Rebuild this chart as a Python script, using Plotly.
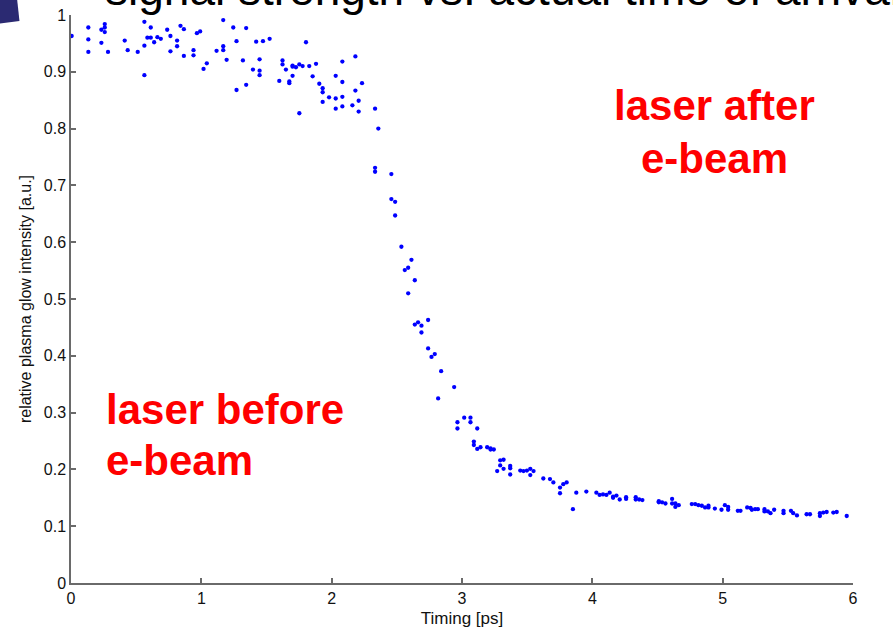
import plotly.graph_objects as go

# Measured plasma glow vs. laser/e-beam relative timing
timing_ps = [
    0.005, 0.133, 0.133, 0.133, 0.233, 0.259, 0.259, 0.259, 0.233, 0.284,
    0.412, 0.435, 0.512, 0.535, 0.563, 0.563, 0.563, 0.586, 0.612, 0.612,
    0.638, 0.663, 0.689, 0.738, 0.763, 0.763, 0.814, 0.814, 0.840, 0.866,
    0.866, 0.940, 0.940, 0.966, 0.991, 1.017, 1.042, 1.117, 1.168, 1.168,
    1.168, 1.194, 1.245, 1.270, 1.270, 1.319, 1.344, 1.344, 1.396, 1.421,
    1.447, 1.447, 1.447, 1.473, 1.524, 1.598, 1.623, 1.623, 1.649, 1.675,
    1.675, 1.700, 1.700, 1.700, 1.726, 1.752, 1.752, 1.777, 1.803, 1.828,
    1.854, 1.880, 1.905, 1.931, 1.931, 1.931, 1.980, 2.031, 2.031, 2.031,
    2.082, 2.082, 2.082, 2.082, 2.159, 2.182, 2.182, 2.207, 2.207, 2.233,
    2.333, 2.358,
    2.333, 2.333, 2.458, 2.458, 2.487, 2.487, 2.535, 2.612, 2.587, 2.561,
    2.638, 2.587, 2.638, 2.663, 2.689, 2.740, 2.689, 2.740, 2.766, 2.791,
    2.840, 2.940, 2.817, 2.965, 2.965, 3.017, 3.065, 3.065, 3.117, 3.091,
    3.091, 3.117, 3.142, 3.193, 3.219, 3.219, 3.244, 3.293, 3.319, 3.293,
    3.319, 3.270, 3.370, 3.370, 3.370, 3.447, 3.472, 3.498, 3.524, 3.524,
    3.549, 3.624, 3.675, 3.701, 3.752, 3.752, 3.777, 3.803, 3.877, 3.851,
    3.954, 4.031, 4.056, 4.082, 4.108, 4.133, 4.159, 4.159, 4.185, 4.210,
    4.259, 4.259, 4.333, 4.333, 4.359, 4.384, 4.510, 4.510, 4.535, 4.561,
    4.612, 4.612, 4.637, 4.637, 4.663, 4.763, 4.789, 4.814, 4.840, 4.865,
    4.891, 4.891, 4.940, 4.991, 5.017, 5.042, 5.042, 5.116, 5.137, 5.188,
    5.214, 5.224, 5.249, 5.270, 5.321, 5.321, 5.347, 5.367, 5.395, 5.467,
    5.467, 5.524, 5.541, 5.570, 5.644, 5.670, 5.746, 5.746, 5.772, 5.798,
    5.849, 5.875, 5.952,
]

glow_intensity = [
    0.963, 0.978, 0.957, 0.935, 0.974, 0.984, 0.978, 0.970, 0.951, 0.935,
    0.955, 0.938, 0.935, 1.001, 0.988, 0.946, 0.894, 0.960, 0.978, 0.960,
    0.952, 0.961, 0.958, 0.974, 0.963, 0.936, 0.955, 0.945, 0.981, 0.975,
    0.928, 0.938, 0.929, 0.968, 0.971, 0.905, 0.915, 0.937, 0.991, 0.945,
    0.938, 0.921, 0.978, 0.954, 0.868, 0.920, 0.977, 0.877, 0.904, 0.953,
    0.922, 0.902, 0.894, 0.954, 0.958, 0.884, 0.920, 0.913, 0.904, 0.883,
    0.880, 0.911, 0.909, 0.893, 0.908, 0.913, 0.827, 0.910, 0.952, 0.910,
    0.892, 0.914, 0.879, 0.871, 0.864, 0.847, 0.855, 0.893, 0.853, 0.835,
    0.918, 0.882, 0.856, 0.839, 0.841, 0.927, 0.867, 0.849, 0.830, 0.880,
    0.835, 0.800,
    0.731, 0.724, 0.720, 0.676, 0.671, 0.647, 0.592, 0.569, 0.555, 0.551,
    0.533, 0.510, 0.455, 0.459, 0.453, 0.463, 0.441, 0.413, 0.398, 0.403,
    0.373, 0.345, 0.325, 0.283, 0.272, 0.291, 0.291, 0.283, 0.272, 0.249,
    0.243, 0.236, 0.239, 0.239, 0.237, 0.235, 0.235, 0.216, 0.217, 0.207,
    0.201, 0.197, 0.206, 0.202, 0.191, 0.198, 0.197, 0.198, 0.201, 0.190,
    0.197, 0.184, 0.183, 0.177, 0.168, 0.158, 0.174, 0.177, 0.159, 0.130,
    0.161, 0.159, 0.155, 0.156, 0.155, 0.159, 0.150, 0.152, 0.154, 0.147,
    0.151, 0.148, 0.151, 0.147, 0.147, 0.146, 0.144, 0.142, 0.142, 0.140,
    0.148, 0.140, 0.140, 0.134, 0.137, 0.139, 0.139, 0.137, 0.136, 0.133,
    0.136, 0.133, 0.131, 0.129, 0.137, 0.134, 0.129, 0.127, 0.127, 0.133,
    0.132, 0.129, 0.130, 0.130, 0.130, 0.126, 0.126, 0.123, 0.129, 0.127,
    0.123, 0.127, 0.123, 0.119, 0.121, 0.121, 0.123, 0.118, 0.124, 0.125,
    0.124, 0.125, 0.118,
]

x_ticks = [0, 1, 2, 3, 4, 5, 6]
y_ticks = [0, 0.1, 0.2, 0.3, 0.4, 0.5, 0.6, 0.7, 0.8, 0.9, 1]
y_tick_text = ["0", "0.1", "0.2", "0.3", "0.4", "0.5", "0.6", "0.7", "0.8", "0.9", "1"]

FONT = "Arial, 'Liberation Sans', sans-serif"
AXIS_GREY = "#6a6a6a"

fig = go.Figure()
fig.add_trace(go.Scatter(
    x=timing_ps,
    y=glow_intensity,
    mode="markers",
    marker=dict(size=4.3, color="#0000ff", line=dict(width=0)),
    cliponaxis=False,
    showlegend=False,
))

axis_common = dict(
    automargin=False,
    showgrid=False,
    zeroline=False,
    showline=True,
    linecolor=AXIS_GREY,
    linewidth=1.5,
    ticks="inside",
    ticklen=5,
    tickwidth=1.5,
    tickcolor=AXIS_GREY,
    mirror=False,
    tickfont=dict(family=FONT, size=16, color="#111111"),
)

fig.update_xaxes(
    range=[0, 6],
    tickvals=x_ticks,
    title=dict(text="Timing [ps]", font=dict(family=FONT, size=17, color="#111111"),
               standoff=8),
    **axis_common,
)
fig.update_yaxes(
    range=[0, 1],
    tickvals=y_ticks,
    ticktext=y_tick_text,
    title=dict(text="relative plasma glow intensity [a.u.]",
               font=dict(family=FONT, size=16, color="#111111"), standoff=8),
    **axis_common,
)

# page heading, running off the top edge
fig.add_annotation(
    text="signal strength vs. actual time of arrival",
    xref="paper", yref="paper", x=0.0409, y=1.046,
    xanchor="left", yanchor="middle", showarrow=False,
    font=dict(family=FONT, size=46, color="#000000"),
)

RED = "#ff0000"
labels = [
    ("laser after", 0.8223, 0.8398, "center"),
    ("e-beam", 0.8223, 0.7482, "center"),
    ("laser before", 0.0422, 0.3063, "left"),
    ("e-beam", 0.0422, 0.2165, "left"),
]
for text, xp, yp, anchor in labels:
    fig.add_annotation(
        text=f"<b>{text}</b>",
        xref="paper", yref="paper", x=xp, y=yp,
        xanchor=anchor, yanchor="middle", showarrow=False,
        font=dict(family=FONT, size=42, color=RED),
    )

# corner ornament of the slide
fig.add_shape(
    type="path",
    xref="paper", yref="paper",
    path="M -0.095 1.03 L -0.0691 1.03 L -0.0659 0.9894 L -0.095 0.9842 Z",
    fillcolor="#2b2a72", line=dict(width=0), layer="above",
)

fig.update_layout(
    width=893,
    height=628,
    margin=dict(l=71, r=40, t=15, b=45, autoexpand=False),
    paper_bgcolor="#ffffff",
    plot_bgcolor="#ffffff",
    font=dict(family=FONT),
)

fig.write_html("out.html")
